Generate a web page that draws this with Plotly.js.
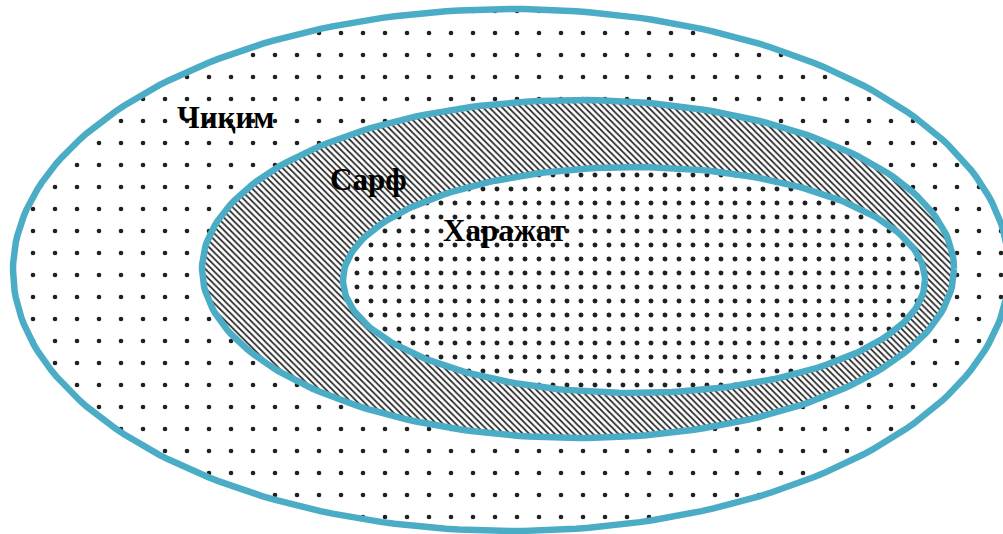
<!DOCTYPE html>
<html>
<head>
<meta charset="utf-8">
<script src="https://cdn.plot.ly/plotly-3.0.1.min.js"></script>
<style>html,body{margin:0;padding:0;background:#fff;}#chart{width:1003px;height:534px;}</style>
</head>
<body>
<div id="chart"></div>
<script>
// Nested sets (outer -> inner)
const setNames   = ["Чиқим", "Сарф", "Харажат"];
const centerX    = [511, 578, 634];
const centerY    = [270, 269, 280];
const radiusX    = [498, 376, 291];
const radiusY    = [261, 169, 113];
const labelX     = [175, 328, 441];
const labelY     = [117, 179, 230];
const patternShape = [".", "\\", "."];
const patternSize  = [22, 4.5, 14];
const patternSolid = [0.035, 0.38, 0.1];

const N = 240;
const traces = setNames.map((name, i) => {
  const xs = [], ys = [];
  for (let k = 0; k <= N; k++) {
    const t = 2 * Math.PI * k / N;
    xs.push(centerX[i] + radiusX[i] * Math.cos(t));
    ys.push(centerY[i] + radiusY[i] * Math.sin(t));
  }
  return {
    type: "scatter", mode: "lines", name: name, x: xs, y: ys,
    fill: "toself", fillcolor: "#ffffff",
    fillpattern: {shape: patternShape[i], size: patternSize[i], solidity: patternSolid[i],
                  fgcolor: "#202020", bgcolor: "#ffffff", fgopacity: 1},
    line: {color: "#4BACC6", width: 6.5},
    hoverinfo: "skip", showlegend: false
  };
});

const annotations = setNames.map((name, i) => ({
  x: labelX[i], y: labelY[i], xref: "x", yref: "y",
  text: "<b>" + name + "</b>", showarrow: false,
  xanchor: "left", yanchor: "middle",
  font: {family: "Liberation Serif, Times New Roman, serif", size: 31, color: "#000"}
}));

const layout = {
  width: 1003, height: 534,
  margin: {l: 0, r: 0, t: 0, b: 0, pad: 0},
  paper_bgcolor: "#ffffff", plot_bgcolor: "#ffffff",
  xaxis: {range: [0, 1003], visible: false, fixedrange: true},
  yaxis: {range: [534, 0], visible: false, fixedrange: true},
  annotations: annotations,
  showlegend: false
};

Plotly.newPlot("chart", traces, layout, {displayModeBar: false, staticPlot: true});
</script>
</body>
</html>
